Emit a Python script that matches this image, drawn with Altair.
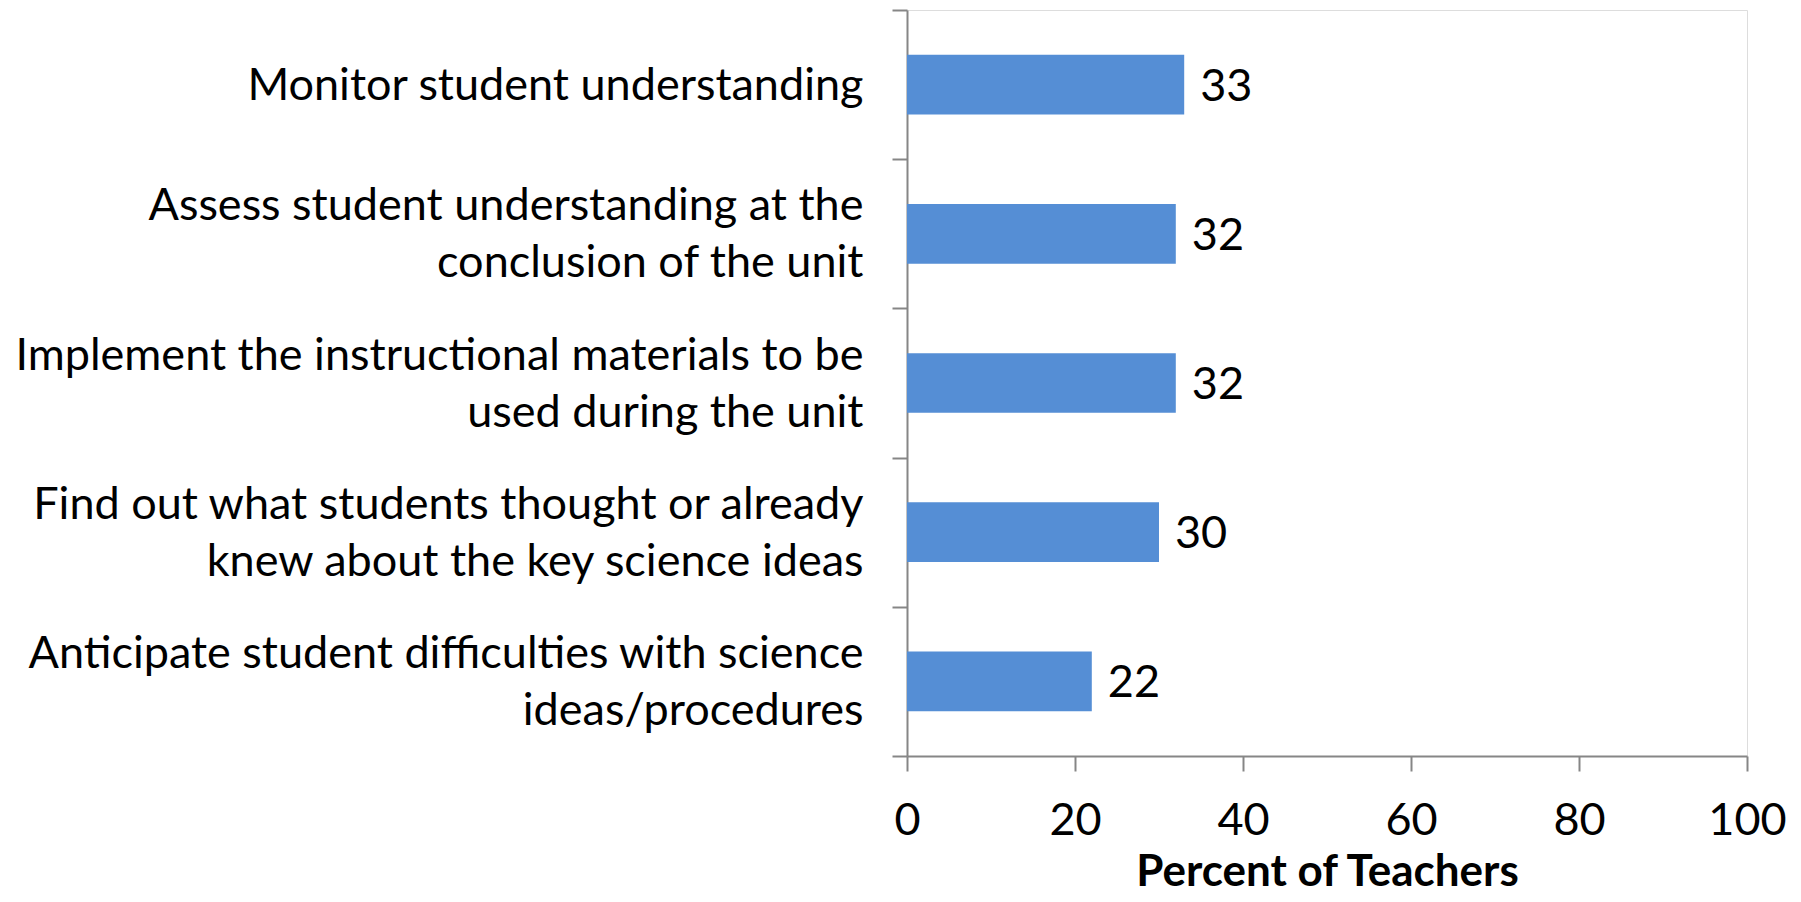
import altair as alt
import pandas as pd

categories = [
    "Monitor student understanding",
    "Assess student understanding at the|conclusion of the unit",
    "Implement the instructional materials to be|used during the unit",
    "Find out what students thought or already|knew about the key science ideas",
    "Anticipate student difficulties with science|ideas/procedures",
]
values = [33, 32, 32, 30, 22]
x_ticks = [0, 20, 40, 60, 80, 100]

df = pd.DataFrame({"cat": categories, "val": values})

FONT = "Lato"
FS = 45
BAR = "#558ED5"
AX = "#868686"

y_enc = alt.Y(
    "cat:N",
    sort=categories,
    scale=alt.Scale(paddingInner=0, paddingOuter=0),
    axis=alt.Axis(
        title=None,
        labelExpr="split(datum.label, '|')",
        labelFont=FONT,
        labelFontSize=FS,
        labelColor="black",
        labelLineHeight=57,
        labelPadding=29,
        labelLimit=1000,
        labelOffset={"condition": {"test": "indexof(datum.label, '|') >= 0", "value": -28}, "value": 1},
        tickBand="extent",
        tickSize=15,
        tickColor=AX,
        tickWidth=2,
        domainColor=AX,
        domainWidth=2,
        grid=False,
    ),
)

x_enc = alt.X(
    "val:Q",
    scale=alt.Scale(domain=[0, 100], nice=False),
    axis=alt.Axis(
        values=x_ticks,
        title="Percent of Teachers",
        titleFont=FONT,
        titleFontSize=44,
        titleFontWeight="bold",
        titleColor="black",
        titlePadding=7,
        labelFont=FONT,
        labelFontSize=FS,
        labelColor="black",
        labelPadding=27,
        labelFlush=False,
        tickSize=15,
        tickColor=AX,
        tickWidth=2,
        domainColor=AX,
        domainWidth=2,
        grid=False,
    ),
)

bars = alt.Chart(df).mark_bar(color=BAR, height=alt.RelativeBandSize(0.4)).encode(x=x_enc, y=y_enc)
text = alt.Chart(df).mark_text(
    align="left", baseline="middle", dx=16, dy=2, font=FONT, fontSize=FS, color="black"
).encode(x=alt.X("val:Q"), y=alt.Y("cat:N", sort=categories), text=alt.Text("val:Q"))

chart = (
    alt.layer(bars, text)
    .properties(
        width=840,
        height=746,
        autosize=alt.AutoSizeParams(type="none"),
        padding={"left": 899, "top": 2, "right": 46, "bottom": 138},
    )
    .configure_view(stroke=None)
    .configure(background="white")
)

chart.save("out.html", embed_options={"renderer": "svg", "actions": False})
